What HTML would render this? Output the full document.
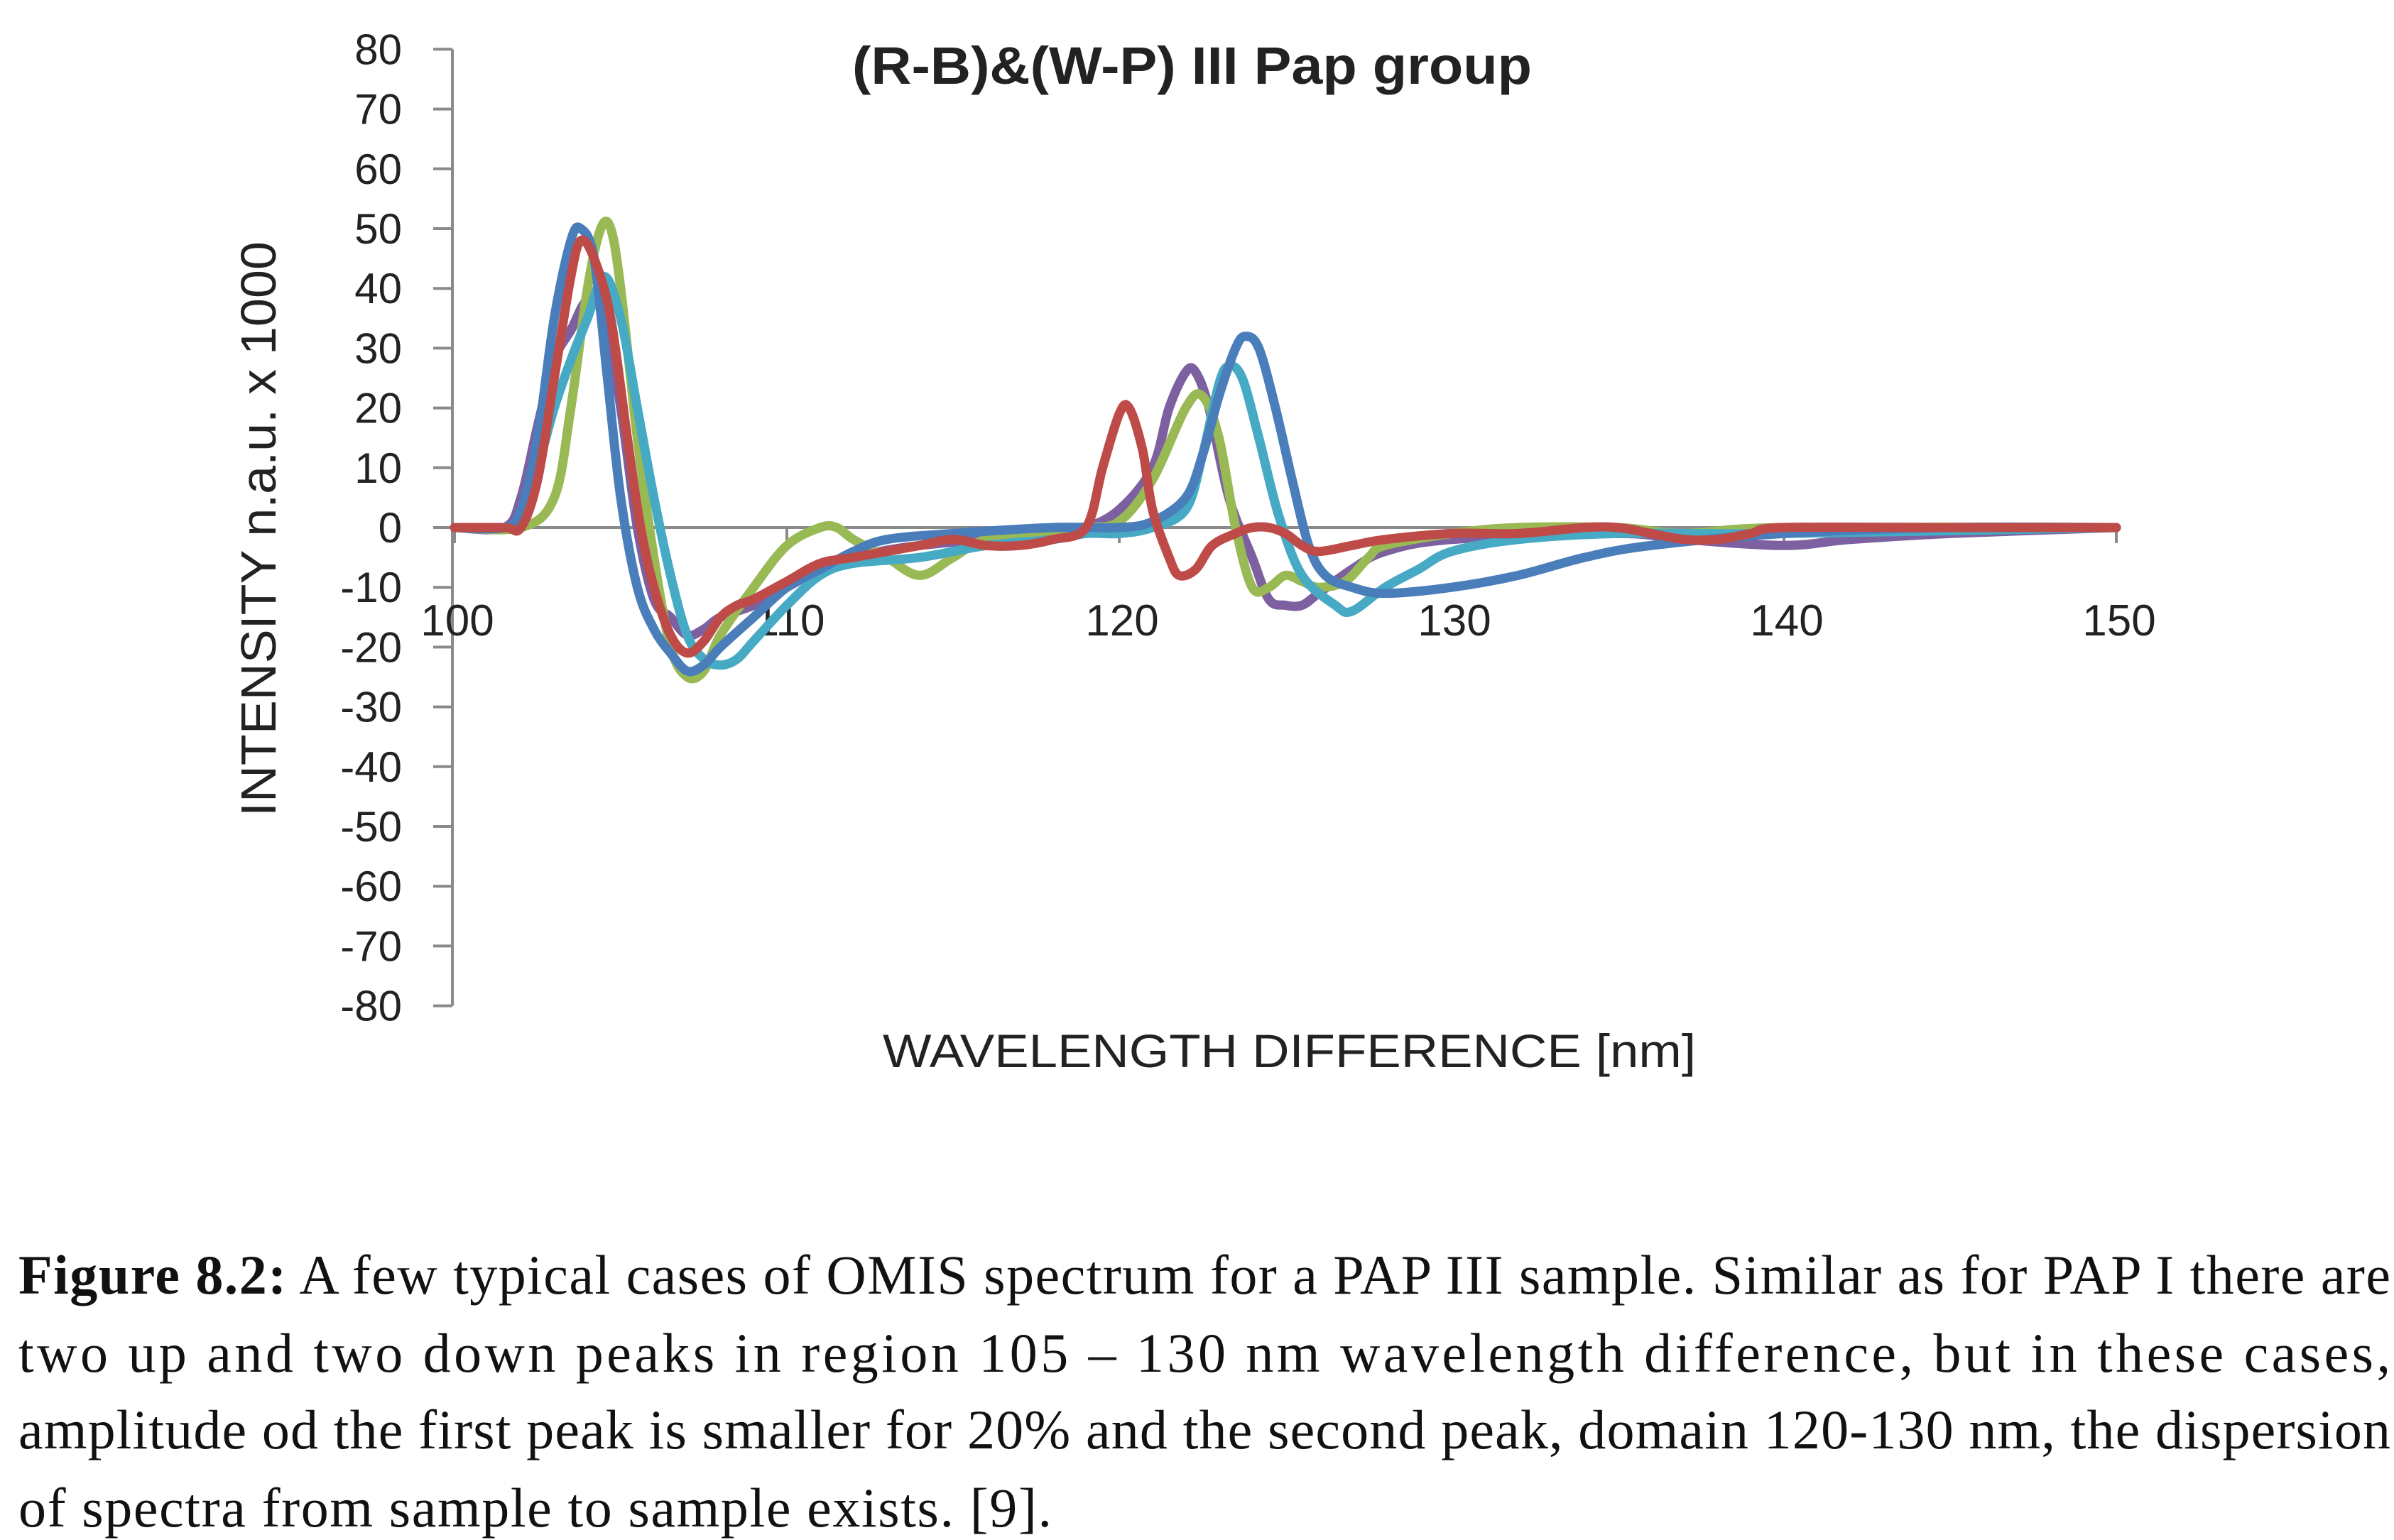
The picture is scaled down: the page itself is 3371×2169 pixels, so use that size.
<!DOCTYPE html>
<html><head><meta charset="utf-8"><style>
html,body{margin:0;padding:0;background:#fff;}
#wrap{position:relative;width:3371px;height:2169px;overflow:hidden;background:#fff;}
svg{position:absolute;left:0;top:0;}
</style></head><body>
<div id="wrap">
<svg id="chart" width="3371" height="2169" font-family="Liberation Sans, sans-serif">
<g font-family="Liberation Serif, serif" font-size="78" fill="#111">
<text x="26" y="1822" textLength="3340" lengthAdjust="spacing"><tspan font-weight="bold">Figure 8.2:</tspan> A few typical cases of OMIS spectrum for a PAP III sample. Similar as for PAP I there are</text>
<text x="26" y="1932" textLength="3340" lengthAdjust="spacing">two up and two down peaks in region 105 – 130 nm wavelength difference, but in these cases,</text>
<text x="26" y="2040" textLength="3340" lengthAdjust="spacing">amplitude od the first peak is smaller for 20% and the second peak, domain 120-130 nm, the dispersion</text>
<text x="26" y="2150" textLength="1455" lengthAdjust="spacing">of spectra from sample to sample exists. [9].</text>
</g>
</svg>
</div>
<script>
const yTicks=[80,70,60,50,40,30,20,10,0,-10,-20,-30,-40,-50,-60,-70,-80];
const xTicks=[100,110,120,130,140,150];
const seriesNames=['purple','green','cyan','blue','red'];
const seriesColors=['#7d60a0','#98b954','#46aac5','#4a7ebb','#be4b48'];
const purpleX=[100,101.5,102,102.5,103,103.5,104,104.5,105,105.5,106,106.5,107,107.5,108,109,110,111,112,114,118,119,120,121,121.5,122,122.3,122.7,123.3,124,124.5,125,125.5,126,127,128,130,135,137,140,142,145,150];
const purpleY=[0,0,5,17,28,33,38,35,20,0,-12,-15,-18,-17,-15,-13,-10,-7,-5,-3,-1,0,3,10,20,26,26,20,5,-5,-12,-13,-13,-11,-7,-4,-2,-1,-2,-3,-2,-1,0];
const greenX=[100,102,103,103.5,104,104.4,104.7,105,105.5,106,106.5,107,107.5,108,109,110,111,111.5,112,113,114,115,116,118,119,120,121,122,122.5,123,123.5,124,124.5,125,125.5,126,126.8,127.5,128,130,132,135,137,140,150];
const greenY=[0,0,5,20,40,50,50,40,15,-5,-20,-25,-24,-18,-10,-3,0,0,-2,-5,-8,-5,-2,-1,0,1,8,20,22,15,0,-10,-10,-8,-9,-10,-9,-5,-3,-1,0,0,-1,0,0];
const cyanX=[100,101.5,102,102.5,103,103.5,104,104.5,105,105.5,106,106.5,107,107.5,108,108.5,109,110,111,112,114,116,118,119,120,121,122,122.5,123,123.3,123.7,124.2,124.8,125.5,126.5,127,128,129,130,132,135,140,150];
const cyanY=[0,0,2,10,20,28,35,42,35,20,5,-8,-18,-22,-23,-22,-19,-13,-8,-6,-5,-3,-2,-1,-1,0,3,12,24,27,25,15,2,-8,-13,-14,-10,-7,-4,-2,-1,-1,0];
const blueX=[100,101.5,102,102.5,103,103.5,103.8,104.2,104.6,105,105.5,106,106.5,107,107.5,108,109,110,111,112,113,115,118,120,121,122,122.5,123,123.5,123.8,124.2,124.7,125.2,125.7,126.2,127,128,130,132,134,136,140,145,150];
const blueY=[0,0,3,15,35,48,50,45,25,5,-10,-17,-21,-24,-23,-20,-15,-10,-7,-4,-2,-1,0,0,1,5,12,22,30,32,30,20,8,-3,-8,-10,-11,-10,-8,-5,-3,-1,0,0];
const redX=[100,101.5,102,102.5,103,103.5,103.8,104.2,104.7,105.2,105.6,106,106.5,107,107.5,108,108.5,109,110,111,112,113,114,115,116,117,118,119,119.5,120,120.3,120.7,121,121.5,121.8,122.3,122.8,123.5,124,124.5,125,125.5,126,127,128,130,132,134,135,136,137,138,139,140,145,150];
const redY=[0,0,0,8,25,42,48,45,35,15,0,-10,-18,-21,-19,-15,-13,-12,-9,-6,-5,-4,-3,-2,-3,-3,-2,0,10,19,20,13,3,-5,-8,-7,-3,-1,0,0,-1,-3,-4,-3,-2,-1,-1,0,0,-1,-2,-2,-1,0,0,0];
const seriesX=[purpleX,greenX,cyanX,blueX,redX];
const seriesY=[purpleY,greenY,cyanY,blueY,redY];

const NS='http://www.w3.org/2000/svg';
const svg=document.getElementById('chart');
const X0=640,XPX=46.8,Y0=743,YPX=8.42;
function sx(v){return X0+(v-100)*XPX;}
function sy(v){return Y0-v*YPX;}
function mk(tag,attrs){const e=document.createElementNS(NS,tag);for(const k in attrs)e.setAttribute(k,attrs[k]);svg.appendChild(e);return e;}

let ax=mk('line',{x1:sx(100)-3,y1:sy(80),x2:sx(100)-3,y2:sy(-80),stroke:'#8a8a8a','stroke-width':4});


yTicks.forEach(t=>{
  const l=mk('line',{x1:sx(100)-30,y1:sy(t),x2:sx(100)-3,y2:sy(t),stroke:'#8a8a8a','stroke-width':4});
  
  
  const tx=mk('text',{x:566,y:sy(t)+21,'text-anchor':'end','font-size':60,fill:'#222'});
  tx.textContent=String(t);
  
  
});
let xa=mk('line',{x1:sx(100),y1:sy(0),x2:sx(150),y2:sy(0),stroke:'#8a8a8a','stroke-width':4});


xTicks.forEach(t=>{
  const l=mk('line',{x1:sx(t),y1:sy(0),x2:sx(t),y2:sy(0)+22,stroke:'#8a8a8a','stroke-width':4});
  
  
  const tx=mk('text',{x:sx(t)+4,y:895,'text-anchor':'middle','font-size':62,fill:'#222'});
  tx.textContent=String(t);
  
  
});
function path(xs,ys){
  const p=xs.map((x,i)=>[sx(x),sy(ys[i])]);
  let d='M'+p[0][0].toFixed(1)+' '+p[0][1].toFixed(1);
  for(let i=0;i<p.length-1;i++){
    const a=p[Math.max(0,i-1)],b=p[i],c=p[i+1],e=p[Math.min(p.length-1,i+2)];
    const c1=[b[0]+(c[0]-a[0])/6,b[1]+(c[1]-a[1])/6],c2=[c[0]-(e[0]-b[0])/6,c[1]-(e[1]-b[1])/6];
    d+=' C'+c1[0].toFixed(1)+' '+c1[1].toFixed(1)+' '+c2[0].toFixed(1)+' '+c2[1].toFixed(1)+' '+c[0].toFixed(1)+' '+c[1].toFixed(1);
  }
  return d;
}
seriesX.forEach((xs,i)=>{
  const s=mk('path',{d:path(xs,seriesY[i]),fill:'none',stroke:seriesColors[i],'stroke-width':13,'stroke-linejoin':'round','stroke-linecap':'round'});
  
  
});
let tt=mk('text',{x:1200,y:118,'font-size':74,'font-weight':'bold',fill:'#222',textLength:957,lengthAdjust:'spacingAndGlyphs'});
tt.textContent='(R-B)&(W-P) III Pap group';


let yt=mk('text',{x:-405,y:0,'font-size':70,fill:'#222',textLength:810,lengthAdjust:'spacingAndGlyphs',transform:'translate(388,745) rotate(-90)'});
yt.textContent='INTENSITY n.a.u. x 1000';


let xt=mk('text',{x:1243,y:1503,'font-size':66,fill:'#222',textLength:1145,lengthAdjust:'spacingAndGlyphs'});
xt.textContent='WAVELENGTH DIFFERENCE [nm]';


</script>
</body></html>
